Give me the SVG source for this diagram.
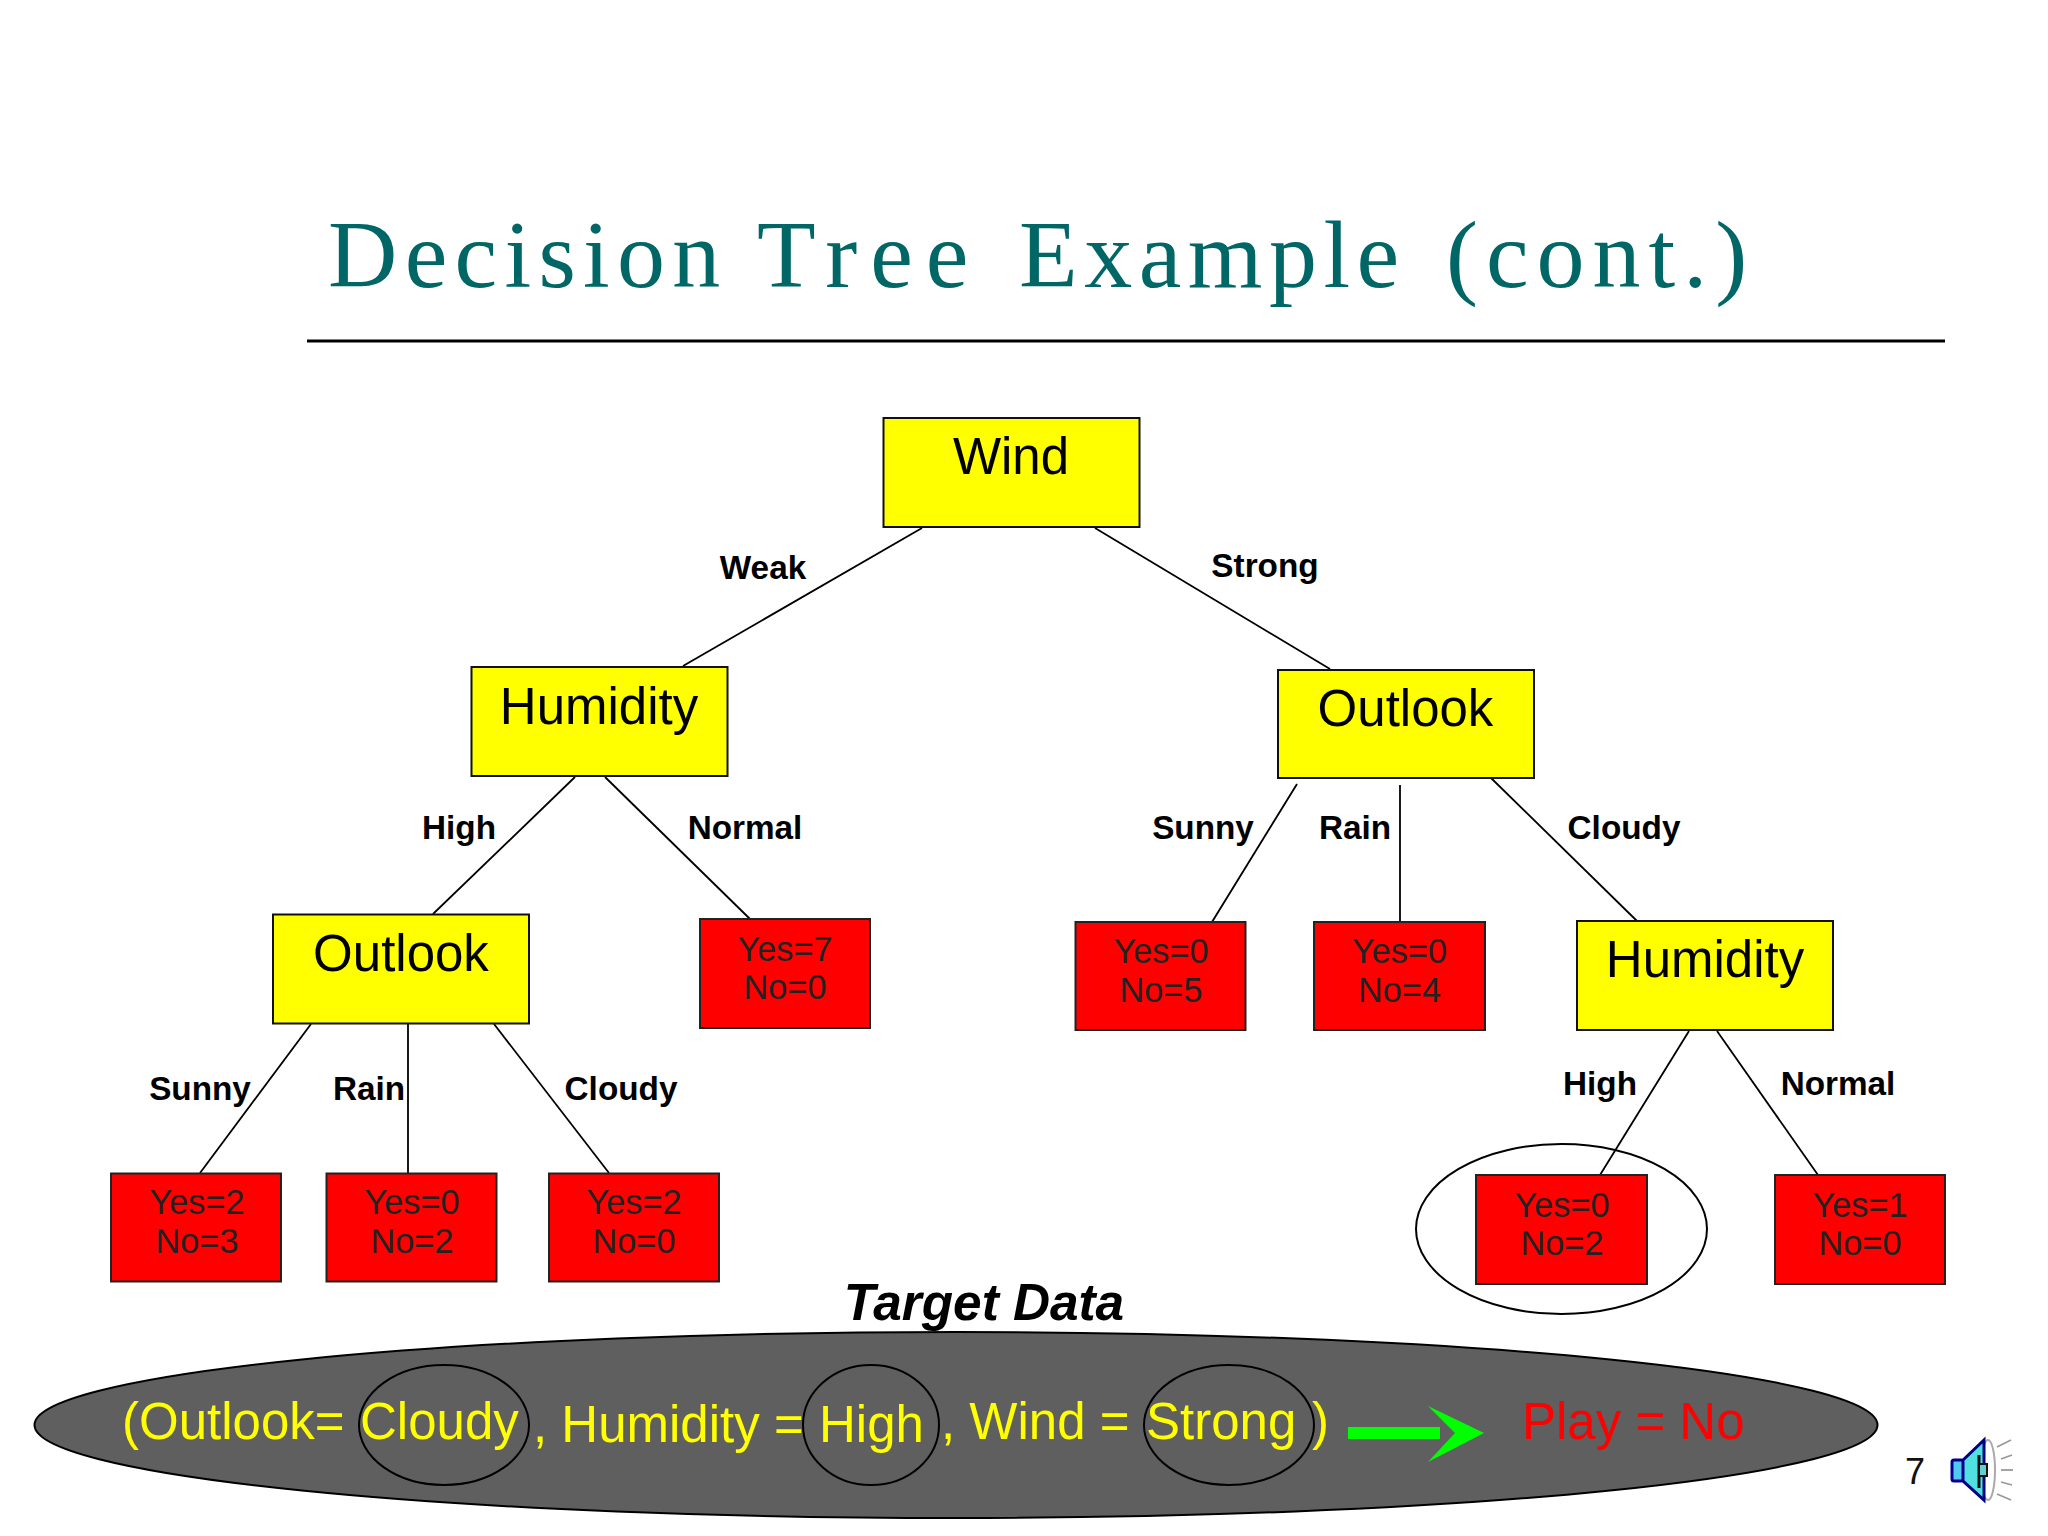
<svg xmlns="http://www.w3.org/2000/svg" width="2048" height="1536" viewBox="0 0 2048 1536">
<style>
text{font-family:"Liberation Sans",Arial,sans-serif}
.d{fill:#ffff00;stroke:#111;stroke-width:2}
.l{fill:#ff0000;stroke:#222;stroke-width:2}
.dt{font-size:51px;fill:#000;text-anchor:middle}
.lt{font-size:34.3px;fill:#222;text-anchor:middle}
.e{font-size:33.3px;font-weight:bold;fill:#000;text-anchor:middle}
.c line{stroke:#000;stroke-width:1.8}
.y{font-size:51px;fill:#ffff00}
.o{fill:none;stroke:#000;stroke-width:2}
</style>
<rect width="2048" height="1536" fill="#ffffff"/>
<g id="title">
<text y="287" style="font-family:'Liberation Serif',serif;font-size:96px;fill:#006666"><tspan x="328" letter-spacing="7.3">Decision</tspan> <tspan x="757" letter-spacing="13">Tree</tspan> <tspan x="1019" letter-spacing="6.5">Example</tspan> <tspan x="1446" letter-spacing="8">(cont.)</tspan></text>
<line x1="307" y1="341" x2="1945" y2="341" stroke="#000" stroke-width="3"/>
</g>
<g id="connectors" class="c">
<line x1="922" y1="528" x2="683" y2="666"/>
<line x1="1095" y1="528" x2="1330" y2="669"/>
<line x1="575" y1="777" x2="433" y2="914"/>
<line x1="605" y1="777" x2="750" y2="919"/>
<line x1="1297" y1="784" x2="1212" y2="922"/>
<line x1="1400" y1="785" x2="1400" y2="922"/>
<line x1="1491" y1="778" x2="1637" y2="921"/>
<line x1="311" y1="1024" x2="200" y2="1173"/>
<line x1="408" y1="1024" x2="408" y2="1173"/>
<line x1="494" y1="1024" x2="609" y2="1173"/>
<line x1="1689" y1="1031" x2="1600" y2="1175"/>
<line x1="1717" y1="1031" x2="1818" y2="1175"/>
</g>
<g id="edge-labels">
<text class="e" x="763" y="579">Weak</text>
<text class="e" x="1265" y="577">Strong</text>
<text class="e" x="459" y="839">High</text>
<text class="e" x="745" y="839">Normal</text>
<text class="e" x="1203" y="839">Sunny</text>
<text class="e" x="1355" y="839">Rain</text>
<text class="e" x="1624" y="839">Cloudy</text>
<text class="e" x="200" y="1100">Sunny</text>
<text class="e" x="369" y="1100">Rain</text>
<text class="e" x="621" y="1100">Cloudy</text>
<text class="e" x="1600" y="1095">High</text>
<text class="e" x="1838" y="1095">Normal</text>
</g>
<g id="wind"><rect class="d" x="883.5" y="418" width="256" height="109"/><text class="dt" x="1011" y="474">Wind</text></g>
<g id="humidity-left"><rect class="d" x="471.5" y="667" width="256" height="109"/><text class="dt" x="599" y="724">Humidity</text></g>
<g id="outlook-right"><rect class="d" x="1278" y="670" width="256" height="108"/><text class="dt" x="1405.500" y="726">Outlook</text></g>
<g id="outlook-left"><rect class="d" x="273" y="914.500" width="256" height="109"/><text class="dt" x="401" y="971">Outlook</text></g>
<g id="humidity-right"><rect class="d" x="1577" y="921" width="256" height="109"/><text class="dt" x="1705" y="977">Humidity</text></g>
<g id="leaf-y7"><rect class="l" x="700" y="919" width="170" height="109"/><text class="lt" x="785" y="961">Yes=7</text><text class="lt" x="785" y="999">No=0</text></g>
<g id="leaf-y0n5"><rect class="l" x="1075.500" y="922" width="170" height="108"/><text class="lt" x="1161" y="963">Yes=0</text><text class="lt" x="1161" y="1002">No=5</text></g>
<g id="leaf-y0n4"><rect class="l" x="1314" y="922" width="171" height="108"/><text class="lt" x="1399.500" y="963">Yes=0</text><text class="lt" x="1399.500" y="1002">No=4</text></g>
<g id="leaf-y2n3"><rect class="l" x="111" y="1173.500" width="170" height="108"/><text class="lt" x="197" y="1214">Yes=2</text><text class="lt" x="197" y="1253">No=3</text></g>
<g id="leaf-y0n2"><rect class="l" x="326.500" y="1173.500" width="170" height="108"/><text class="lt" x="412" y="1214">Yes=0</text><text class="lt" x="412" y="1253">No=2</text></g>
<g id="leaf-y2n0"><rect class="l" x="549" y="1173.500" width="170" height="108"/><text class="lt" x="634" y="1214">Yes=2</text><text class="lt" x="634" y="1253">No=0</text></g>
<g id="leaf-target"><rect class="l" x="1476" y="1175" width="171" height="109"/><text class="lt" x="1562" y="1217">Yes=0</text><text class="lt" x="1562" y="1255">No=2</text></g>
<g id="leaf-y1n0"><rect class="l" x="1775" y="1175" width="170" height="109"/><text class="lt" x="1860" y="1217">Yes=1</text><text class="lt" x="1860" y="1255">No=0</text></g>
<ellipse id="leaf-highlight" class="o" cx="1561.500" cy="1229" rx="145.500" ry="85"/>
<g id="target">
<text x="984" y="1320" style="font-size:51.300px;font-weight:bold;font-style:italic;text-anchor:middle" fill="#000">Target Data</text>
<ellipse cx="956" cy="1425" rx="921.500" ry="93" fill="#5f5f5f" stroke="#000" stroke-width="2"/>
<ellipse class="o" cx="444" cy="1425" rx="85" ry="60"/>
<ellipse class="o" cx="871" cy="1425" rx="68" ry="60"/>
<ellipse class="o" cx="1229" cy="1425" rx="85" ry="60"/>
<text class="y" x="122" y="1439">(Outlook=</text>
<text class="y" x="360" y="1439">Cloudy</text>
<text class="y" x="533" y="1442">, Humidity =</text>
<text class="y" x="819" y="1442">High</text>
<text class="y" x="941" y="1439">, Wind =</text>
<text class="y" x="1146" y="1439">Strong</text>
<text class="y" x="1312" y="1439">)</text>
<rect x="1348" y="1427" width="92" height="12" fill="#00ff00"/>
<polygon points="1428,1406 1484,1433 1428,1462 1455,1433" fill="#00ff00"/>
<text x="1522" y="1439" style="font-size:51px" fill="#ff0000">Play = No</text>
</g>
<text id="page" x="1905" y="1484" style="font-size:36px" fill="#111">7</text>
<g id="speaker">
<ellipse cx="1988" cy="1470" rx="7" ry="30" fill="#fff" stroke="#aaa" stroke-width="2"/>
<polygon points="1962,1461 1984,1440 1984,1500 1962,1480" fill="#50e0e0" stroke="#000080" stroke-width="3"/>
<rect x="1952" y="1460" width="11" height="21" rx="2" fill="#50c8f0" stroke="#000090" stroke-width="3"/>
<line x1="1979" y1="1455" x2="1979" y2="1488" stroke="#111" stroke-width="3"/>
<rect x="1979" y="1464" width="8" height="12" fill="#60d0d0" stroke="#111" stroke-width="2"/>
<g stroke="#999" stroke-width="1.8"><line x1="1997" y1="1447" x2="2011" y2="1440"/><line x1="2001" y1="1459" x2="2012" y2="1455"/><line x1="2001" y1="1470" x2="2013" y2="1470"/><line x1="2001" y1="1482" x2="2012" y2="1485"/><line x1="1997" y1="1494" x2="2011" y2="1500"/></g>
</g>
</svg>
